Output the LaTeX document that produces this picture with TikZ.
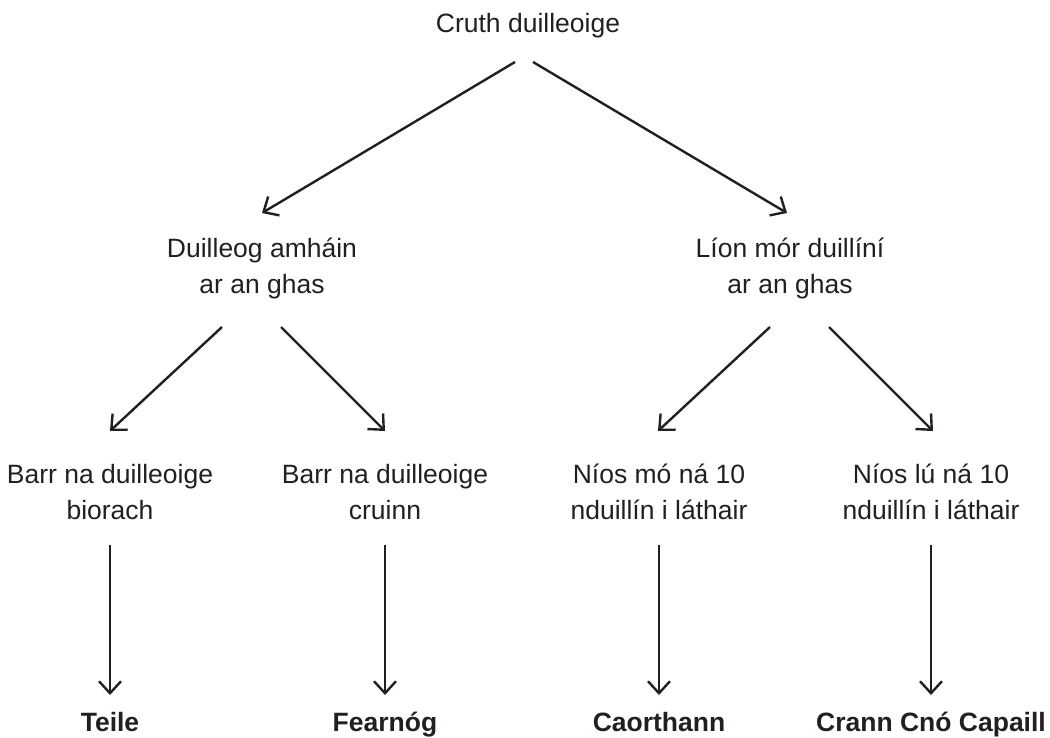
\documentclass[tikz,border=0pt]{standalone}
\usepackage{fontspec}
\setmainfont{Liberation Sans}
\usetikzlibrary{arrows.meta}
\definecolor{ink}{HTML}{231F20}
\tikzset{
    label/.style={align=center, anchor=base, inner sep=0pt, text=ink,
        font=\fontsize{26.5}{35.5}\selectfont},
    leaf/.style={label, font=\fontsize{26.5}{35.5}\selectfont\bfseries},
    arr/.style={draw=ink, line width=2.4pt, -{Straight Barb[length=12pt, width=22pt, line width=2.4pt]}}
}
\begin{document}
\begin{tikzpicture}[x=1pt, y=-1pt]
    \useasboundingbox (0,0) rectangle (1050,737);
    % levels of the key (base = last line)
    \node (root) at (528,32) [label] {Cruth duilleoige};
    \node (single) at (262,293) [label] {Duilleog amháin\\ar an ghas};
    \node (many) at (790,293) [label] {Líon mór duillíní\\ar an ghas};
    \node (pointed) at (110,519) [label] {Barr na duilleoige\\biorach};
    \node (round) at (385,519) [label] {Barr na duilleoige\\cruinn};
    \node (more) at (659,519) [label] {Níos mó ná 10\\nduillín i láthair};
    \node (fewer) at (931,519) [label] {Níos lú ná 10\\nduillín i láthair};
    % trees
    \node (teile) at (110,731) [leaf] {Teile};
    \node (fearnog) at (385,731) [leaf] {Fearnóg};
    \node (caorthann) at (659,731) [leaf] {Caorthann};
    \node (crann) at (931,731) [leaf] {Crann Cnó Capaill};
    \draw[arr] ([xshift=-13pt, yshift=-30pt]root.base) -- ([yshift=80pt]single.base);
    \draw[arr] ([xshift=5pt, yshift=-30pt]root.base) -- ([xshift=-3pt, yshift=80pt]many.base);
    \draw[arr] ([xshift=-40pt, yshift=-34pt]single.base) -- ([yshift=88pt]pointed.base);
    \draw[arr] ([xshift=19pt, yshift=-34pt]single.base) -- ([yshift=88pt]round.base);
    \draw[arr] ([xshift=-20pt, yshift=-34pt]many.base) -- ([xshift=-1pt, yshift=88pt]more.base);
    \draw[arr] ([xshift=39pt, yshift=-34pt]many.base) -- ([xshift=2pt, yshift=88pt]fewer.base);
    \foreach \from/\to in {pointed/teile, round/fearnog, more/caorthann, fewer/crann} {
            \draw[arr] ([yshift=-26pt]\from.base) -- ([yshift=36pt]\to.base);
        }
\end{tikzpicture}
\end{document}
